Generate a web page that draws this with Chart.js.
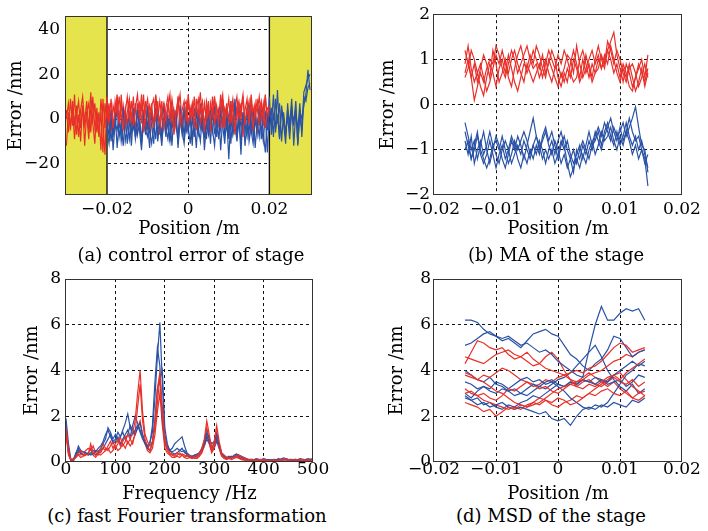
<!DOCTYPE html>
<html><head><meta charset="utf-8">
<script src="https://cdn.jsdelivr.net/npm/chart.js@4.4.1/dist/chart.umd.min.js"></script>
<style>
html,body{margin:0;padding:0;background:#fff;}
#wrap{position:relative;width:708px;height:531px;overflow:hidden;background:#fff;}
canvas{position:absolute;}
.cap{position:absolute;width:340px;text-align:center;font-family:"DejaVu Serif",serif;font-size:18px;line-height:20px;color:#000;white-space:nowrap;}
</style></head><body>
<div id="wrap">
<canvas id="ca" width="354" height="240" style="left:0;top:0"></canvas>
<canvas id="cb" width="354" height="240" style="left:354px;top:0"></canvas>
<canvas id="cc" width="354" height="243" style="left:0;top:262px"></canvas>
<canvas id="cd" width="354" height="243" style="left:354px;top:262px"></canvas>
<div class="cap" style="left:21px;top:245px">(a) control error of stage</div>
<div class="cap" style="left:386px;top:245px">(b) MA of the stage</div>
<div class="cap" style="left:17px;top:506px">(c) fast Fourier transformation</div>
<div class="cap" style="left:381px;top:506px">(d) MSD of the stage</div>
</div>
<script>
// ---------- tick labels ----------
const xTicksA = [-0.02, 0, 0.02];
const xLabelsA = ["\u22120.02", "0", "0.02"];
const yTicksA = [-20, 0, 20, 40];
const yLabelsA = ["\u221220", "0", "20", "40"];
const xTicksBD = [-0.02, -0.01, 0, 0.01, 0.02];
const xLabelsBD = ["\u22120.02", "\u22120.01", "0", "0.01", "0.02"];
const yTicksB = [-2, -1, 0, 1, 2];
const yLabelsB = ["\u22122", "\u22121", "0", "1", "2"];
const xTicksC = [0, 100, 200, 300, 400, 500];
const xLabelsC = ["0", "100", "200", "300", "400", "500"];
const yTicksCD = [0, 2, 4, 6, 8];
const yLabelsCD = ["0", "2", "4", "6", "8"];
const shadeRangesA = [[-0.0301, -0.02], [0.02, 0.0305]];
const boundaryA = [-0.02, 0.02];

// ---------- panel (a) ----------
const posA = [
-0.0300,-0.0295,-0.0290,-0.0285,-0.0280,-0.0275,-0.0270,-0.0265,-0.0260,-0.0255,
-0.0250,-0.0245,-0.0240,-0.0235,-0.0230,-0.0225,-0.0220,-0.0215,-0.0210,-0.0205,
-0.0200,-0.0195,-0.0190,-0.0185,-0.0180,-0.0175,-0.0170,-0.0165,-0.0160,-0.0155,
-0.0150,-0.0145,-0.0140,-0.0135,-0.0130,-0.0125,-0.0120,-0.0115,-0.0110,-0.0105,
-0.0100,-0.0095,-0.0090,-0.0085,-0.0080,-0.0075,-0.0070,-0.0065,-0.0060,-0.0055,
-0.0050,-0.0045,-0.0040,-0.0035,-0.0030,-0.0025,-0.0020,-0.0015,-0.0010,-0.0005,
0,0.0005,0.0010,0.0015,0.0020,0.0025,0.0030,0.0035,0.0040,0.0045,
0.0050,0.0055,0.0060,0.0065,0.0070,0.0075,0.0080,0.0085,0.0090,0.0095,
0.0100,0.0105,0.0110,0.0115,0.0120,0.0125,0.0130,0.0135,0.0140,0.0145,
0.0150,0.0155,0.0160,0.0165,0.0170,0.0175,0.0180,0.0185,0.0190,0.0195,
0.0200,0.0205,0.0210,0.0215,0.0220,0.0225,0.0230,0.0235,0.0240,0.0245,
0.0250,0.0255,0.0260,0.0265,0.0270,0.0275,0.0280,0.0285,0.0290,0.0295,
0.0300];
const redA1 = [-12,3,-5,8,-2,6,-8,4,10,-3, 2,-9,5,-1,7,-6,3,-14,9,-4, 8,-1,9,-4,4,11,-2,7,-5,3, 10,0,8,-3,5,11,1,6,-6,4, 9,-1,7,-4,11,2,-2,8,-5,5, 10,0,6,-7,3,9,-3,4,8,-1, 11,1,7,-4,5,9,-2,4,-6,8, 3,-1,10,-3,6,0,11,-4,5,2, 9,-2,7,-7,4,8,1,10,-3,5, -1,9,-5,6,3,10,0,7,-4,5, 4];
const redA2 = [4,-6,9,-3,11,-7,2,-10,6,-1, 8,-5,12,-2,-11,5,-7,3,-15,7, 0,7,-6,6,1,9,-4,11,-1,5, -3,8,0,10,-5,3,7,-2,11,-4, 4,-6,6,9,-1,8,-7,3,7,0, 5,11,-4,4,-2,10,1,-5,6,8, -3,5,0,10,-5,3,12,-2,7,-1, 8,-6,4,9,1,-3,6,11,-4,3, -1,8,-5,5,10,0,7,-8,4,9, -2,11,1,7,-6,4,8,-3,10,0, 6];
const redA3 = [0,7,-3,5,-9,2,8,-4,6,-12, 3,7,-6,10,-4,1,-8,9,-2,-16, 10,-3,4,-7,8,2,10,-1,6,-4, 3,9,-2,5,-8,7,0,11,1,8, -5,6,2,-3,10,-1,8,1,6,-6, 7,-1,9,2,-4,5,11,-2,3,-5, 8,0,6,-7,9,-1,4,8,-3,5, -5,7,1,10,-2,4,-4,9,0,7, -7,3,9,-1,6,-4,5,11,-2,3, 8,-6,5,0,9,-3,6,2,11,-2, 3];
const blueA1 = [-5,-11,0,-8,3,-13,-1,-6,5,-10, -4,2,-12,1,-8,4,-5,-14,0,-7, 6,-6,-11,-1,-9,3,-4,-12,1,-8, 2,-10,-2,-5,4,-13,0,-7,5,-6, -3,-11,1,-8,3,-4,-10,2,-14,-2, -7,4,-5,-12,0,-9,3,-3,-11,1, -18,0,-6,9,-8,-1,-11,2,-5,5, -10,-4,3,-13,-1,-8,4,-6,-15,1, -4,5,-8,9,-2,7,-10,3,-6,1, -9,6,-3,8,-11,2,-5,12,15,18, 20];
const blueA2 = [0,-8,4,-14,-2,-5,2,-10,-3,3, -11,-1,-6,5,-9,-3,3,-11,1,-6, -2,-13,3,-5,5,-10,-1,-7,7,-4, -9,1,-12,3,-3,-8,6,-5,-11,0, -6,4,-9,-1,-13,2,-4,4,-8,-2, 1,-11,5,-6,-3,3,-14,0,-5,4, -9,8,-7,-2,-10,1,-16,3,-4,-8, 6,-5,-11,0,-7,5,-3,-10,2,-15, 5,-3,11,-6,2,-9,6,-1,-7,4, -2,9,-12,3,-5,7,-8,10,8,14, 16];
const blueA3 = [-7,1,-10,-1,-4,5,-8,-2,-12,2, -1,-9,1,-4,7,-7,-2,-10,4,-5, -8,2,-3,-11,4,-6,0,-9,-2,3, -4,-10,4,-3,1,-11,-1,2,-8,6, -5,0,-12,5,-3,-7,7,-5,-1,-9, 4,-2,-6,6,-8,0,-5,8,-7,-4, 2,-11,1,-3,-8,6,-4,3,-12,-1, -6,5,-8,1,-4,6,-9,0,3,-5, 10,-7,2,-4,13,-8,4,-2,-11,7, -6,3,-1,5,-12,4,0,6,11,22, 13];

// ---------- panel (b) ----------
const posB = [
-0.0150,-0.0145,-0.0140,-0.0135,-0.0130,-0.0125,-0.0120,-0.0115,-0.0110,-0.0105,
-0.0100,-0.0095,-0.0090,-0.0085,-0.0080,-0.0075,-0.0070,-0.0065,-0.0060,-0.0055,
-0.0050,-0.0045,-0.0040,-0.0035,-0.0030,-0.0025,-0.0020,-0.0015,-0.0010,-0.0005,
0,0.0005,0.0010,0.0015,0.0020,0.0025,0.0030,0.0035,0.0040,0.0045,
0.0050,0.0055,0.0060,0.0065,0.0070,0.0075,0.0080,0.0085,0.0090,0.0095,
0.0100,0.0105,0.0110,0.0115,0.0120,0.0125,0.0130,0.0135,0.0140,0.0145];
const redB1 = [1.2,0.9,0.6,0.1,0.4,0.7,0.5,0.8,1.0,0.9, 1.3,1.1,0.8,0.6,0.9,1.2,1.0,0.7,0.9,1.1, 1.3,1.0,0.8,0.9,0.6,0.8,1.0,0.7,0.5,0.8, 0.9,0.6,0.8,1.1,1.0,0.7,1.3,0.9,0.6,0.8, 1.0,1.2,0.9,1.1,0.8,1.0,1.2,1.4,1.6,1.1, 0.8,0.5,0.9,0.7,0.4,0.6,0.9,0.7,0.5,0.8];
const redB2 = [0.7,1.0,0.6,0.9,0.5,0.8,1.1,0.9,0.6,1.2, 0.9,0.5,0.7,1.0,0.6,0.4,0.8,1.1,1.3,1.0, 0.7,0.9,1.2,1.0,0.8,1.1,0.7,0.9,1.2,1.0, 0.6,0.4,0.7,0.5,0.9,1.2,0.9,0.6,1.0,0.7, 0.9,0.6,1.0,1.3,1.0,0.8,1.2,1.0,0.7,0.9, 0.6,0.9,0.7,0.4,0.3,0.6,0.8,1.0,0.6,1.1];
const redB3 = [0.9,1.3,0.8,0.5,0.7,0.4,0.2,0.6,0.9,0.7, 0.4,0.8,1.0,0.7,1.1,0.8,0.5,0.3,0.6,0.9, 0.8,1.1,0.9,1.3,1.1,0.8,0.6,1.0,0.8,0.6, 0.4,0.7,0.5,0.8,0.6,1.0,0.8,0.5,0.7,1.1, 0.8,0.5,0.7,1.0,0.8,1.1,0.9,1.3,1.0,0.7, 0.5,0.8,0.6,0.9,0.6,0.3,0.5,0.8,0.4,0.7];
const redB4 = [0.6,0.8,1.2,1.0,0.7,0.9,0.6,0.3,0.5,0.8, 1.1,0.9,1.2,0.9,0.7,1.0,1.2,0.9,0.7,0.5, 0.9,0.7,0.5,0.7,0.9,0.6,0.9,1.2,1.0,0.8, 1.1,0.9,1.2,1.0,0.7,0.5,0.6,1.0,1.2,0.9, 0.6,0.9,0.7,0.8,1.1,0.9,1.4,1.2,0.9,1.2, 1.0,0.7,0.5,0.8,0.9,0.7,0.4,0.6,0.9,0.6];
const blueB1 = [-0.4,-0.7,-1.0,-0.8,-1.2,-0.9,-0.6,-1.0,-1.3,-1.0, -0.7,-0.9,-1.2,-1.4,-1.1,-0.8,-1.0,-0.7,-0.9,-1.2, -0.9,-0.6,-0.3,-0.7,-1.0,-0.8,-0.6,-0.9,-1.1,-0.8, -1.0,-1.3,-1.1,-1.4,-1.2,-1.5,-1.0,-1.2,-0.9,-1.1, -0.8,-1.0,-0.7,-0.5,-0.7,-0.4,-0.6,-0.8,-0.5,-0.7, -0.6,-0.4,-0.7,-0.5,-0.3,-0.05,-0.5,-0.9,-1.0,-1.5];
const blueB2 = [-1.0,-0.8,-1.2,-0.9,-0.6,-1.1,-1.3,-1.1,-0.8,-1.1, -1.4,-1.1,-0.9,-1.2,-1.0,-1.3,-1.1,-0.9,-1.1,-0.8, -1.0,-1.2,-0.9,-1.1,-0.8,-1.0,-1.3,-1.0,-0.8,-1.1, -0.8,-0.6,-0.9,-1.3,-1.6,-1.4,-1.2,-1.4,-1.1,-1.3, -1.0,-0.8,-1.1,-0.9,-0.6,-0.8,-0.7,-0.5,-0.8,-1.0, -0.7,-0.9,-0.6,-0.8,-1.1,-0.9,-1.2,-1.0,-1.3,-1.1];
const blueB3 = [-0.8,-1.1,-0.7,-1.3,-1.0,-0.8,-1.1,-0.9,-0.6,-0.9, -1.1,-1.3,-1.0,-0.8,-1.0,-0.7,-0.9,-1.2,-1.4,-1.1, -1.3,-1.0,-1.2,-0.9,-1.1,-0.7,-0.5,-0.8,-0.6,-0.9, -1.2,-0.9,-0.7,-1.0,-1.2,-1.0,-1.3,-1.0,-0.8,-1.0, -1.2,-0.9,-0.6,-0.8,-1.0,-0.7,-0.5,-0.3,-0.6,-0.8, -0.5,-0.8,-0.6,-0.3,-0.6,-0.8,-0.7,-1.0,-1.2,-1.8];
const blueB4 = [-0.6,-0.9,-1.2,-1.0,-0.7,-1.0,-1.2,-1.4,-1.2,-0.9, -0.8,-1.0,-0.7,-1.0,-1.3,-1.1,-0.8,-1.0,-0.8,-0.6, -0.8,-1.1,-0.9,-0.7,-0.9,-1.2,-1.0,-1.2,-1.0,-1.3, -1.1,-0.8,-1.0,-0.8,-1.1,-1.3,-1.1,-0.9,-1.2,-0.9, -0.6,-0.9,-0.8,-0.6,-0.9,-0.6,-0.4,-0.7,-0.9,-0.6, -0.9,-0.7,-0.4,-0.7,-0.9,-0.7,-1.0,-0.8,-1.1,-1.4];

// ---------- panel (c) ----------
const freqC = [0,5,10,15,20,25,30,35,40,45, 50,55,60,65,70,75,80,85,90,95, 100,105,110,115,120,125,130,135,140,145, 150,155,160,165,170,175,180,185,190,195, 200,205,210,215,220,225,230,235,240,245, 250,255,260,265,270,275,280,285,290,295, 300,305,310,315,320,325,330,335,340,345, 350,355,360,365,370,375,380,385,390,395, 400,405,410,415,420,425,430,435,440,445, 450,455,460,465,470,475,480,485,490,495, 500];
const redC1 = [1.5,0.6,0.05,0.1,0.2,0.4,0.5,0.3,0.35,0.3, 0.8,0.4,0.3,0.5,0.4,0.6,0.5,0.7,0.9,0.6, 0.8,1.0,0.7,0.9,1.1,0.8,1.0,1.3,1.8,3.0, 4.0,2.2,1.2,0.9,0.7,0.9,1.5,2.6,3.7,2.4, 1.0,0.6,0.4,0.35,0.3,0.4,0.3,0.35,0.3,0.25, 0.3,0.2,0.25,0.3,0.4,0.6,1.0,1.8,1.2,0.6, 0.9,1.6,0.9,0.4,0.3,0.2,0.15,0.2,0.2,0.25, 0.3,0.25,0.2,0.15,0.1,0.12,0.1,0.08,0.1,0.12, 0.1,0.08,0.06,0.08,0.1,0.07,0.08,0.1,0.12,0.15, 0.1,0.08,0.1,0.12,0.08,0.1,0.12,0.08,0.1,0.07, 0.1];
const redC2 = [1.3,0.4,0.1,0.15,0.3,0.35,0.3,0.4,0.5,0.6, 0.5,0.7,0.4,0.3,0.5,0.8,0.6,0.5,0.7,0.9, 0.6,0.8,1.1,0.7,0.9,1.2,1.0,0.8,1.3,2.4, 3.4,1.8,1.0,0.7,0.5,0.8,1.8,3.2,3.9,2.0, 0.8,0.5,0.35,0.3,0.25,0.3,0.4,0.3,0.2,0.3, 0.2,0.25,0.15,0.2,0.3,0.5,0.9,1.5,1.0,0.5, 0.7,1.3,0.7,0.3,0.2,0.15,0.2,0.15,0.2,0.3, 0.2,0.15,0.1,0.12,0.08,0.1,0.07,0.1,0.08,0.06, 0.08,0.1,0.07,0.05,0.08,0.1,0.06,0.08,0.1,0.12, 0.08,0.1,0.06,0.08,0.1,0.12,0.08,0.06,0.08,0.1, 0.08];
const redC3 = [1.2,0.3,0.05,0.1,0.2,0.3,0.2,0.25,0.3,0.4, 0.6,0.3,0.2,0.35,0.3,0.4,0.5,0.6,0.4,0.5, 0.7,0.5,0.6,0.8,0.6,0.9,0.7,0.9,1.2,1.5, 1.8,1.2,0.8,0.5,0.4,0.6,1.2,2.2,3.0,1.6, 0.6,0.4,0.3,0.2,0.2,0.25,0.2,0.3,0.2,0.15, 0.2,0.15,0.2,0.15,0.25,0.4,0.7,1.2,0.8,0.4, 0.6,1.1,0.6,0.25,0.15,0.1,0.15,0.1,0.15,0.2, 0.15,0.1,0.08,0.06,0.08,0.05,0.07,0.05,0.06,0.08, 0.05,0.06,0.04,0.06,0.05,0.07,0.05,0.06,0.08,0.1, 0.06,0.05,0.07,0.06,0.08,0.06,0.05,0.07,0.05,0.06, 0.05];
const blueC1 = [1.9,0.8,0.1,0.05,0.3,0.7,0.5,0.45,0.4,0.35, 0.4,0.5,0.45,0.6,0.7,0.9,1.2,1.4,1.1,0.9, 1.0,1.3,1.1,1.4,1.7,2.1,1.5,1.2,1.4,1.6, 1.3,1.0,0.8,0.7,0.9,1.3,2.8,4.6,6.1,3.5, 1.2,0.7,0.5,0.6,0.8,0.9,1.0,1.1,0.7,0.4, 0.3,0.25,0.3,0.35,0.4,0.6,0.9,1.3,1.0,0.8, 0.9,1.2,0.8,0.4,0.3,0.2,0.25,0.2,0.3,0.35, 0.3,0.25,0.2,0.15,0.1,0.12,0.1,0.15,0.12,0.1, 0.15,0.12,0.1,0.08,0.12,0.1,0.15,0.12,0.18,0.15, 0.12,0.1,0.08,0.1,0.12,0.15,0.1,0.12,0.15,0.12, 0.15];
const blueC2 = [1.6,0.5,0.05,0.1,0.4,0.6,0.4,0.3,0.35,0.4, 0.3,0.35,0.5,0.45,0.6,0.8,1.0,1.5,1.3,1.0, 1.2,0.9,1.1,1.3,1.0,1.2,1.6,1.4,1.2,1.5, 1.7,1.2,0.9,0.6,0.8,1.6,3.5,5.0,4.2,1.8, 0.9,0.6,0.5,0.45,0.5,0.6,0.5,0.6,0.4,0.35, 0.25,0.2,0.3,0.25,0.35,0.5,0.8,1.1,0.9,0.6, 0.8,1.0,0.7,0.35,0.25,0.2,0.15,0.2,0.25,0.3, 0.25,0.2,0.15,0.1,0.12,0.08,0.1,0.12,0.08,0.1, 0.12,0.1,0.08,0.1,0.07,0.1,0.08,0.12,0.1,0.14, 0.1,0.08,0.1,0.12,0.08,0.1,0.12,0.08,0.1,0.12, 0.1];
const blueC3 = [1.4,0.4,0.1,0.1,0.25,0.5,0.35,0.3,0.4,0.3, 0.35,0.4,0.3,0.4,0.5,0.6,0.8,1.0,1.2,0.8, 0.9,1.1,0.8,1.0,1.2,1.4,1.1,1.6,2.0,1.7, 1.4,1.1,0.8,0.6,0.5,0.9,1.8,3.2,3.6,4.0, 1.5,0.8,0.5,0.4,0.35,0.4,0.5,0.45,0.5,0.3, 0.2,0.25,0.2,0.3,0.4,0.5,0.7,1.0,0.8,0.5, 0.6,0.9,0.6,0.3,0.2,0.15,0.2,0.25,0.2,0.25, 0.2,0.15,0.12,0.1,0.08,0.1,0.08,0.1,0.12,0.08, 0.1,0.08,0.06,0.08,0.1,0.08,0.1,0.12,0.1,0.08, 0.1,0.12,0.1,0.08,0.06,0.08,0.1,0.08,0.1,0.08, 0.12];

// ---------- panel (d) ----------
const posD = [-0.015,-0.014,-0.013,-0.012,-0.011,-0.010,-0.009,-0.008,-0.007,-0.006, -0.005,-0.004,-0.003,-0.002,-0.001,0,0.001,0.002,0.003,0.004, 0.005,0.006,0.007,0.008,0.009,0.010,0.011,0.012,0.013,0.014];
const blueD1 = [6.2,6.2,6.1,5.8,5.6,5.5,5.4,5.5,5.3,5.1, 5.2,5.0,4.8,4.9,4.7,4.4,4.2,4.0,3.8,3.7, 4.9,6.0,6.8,6.2,6.2,6.5,6.7,6.6,6.7,6.2];
const blueD2 = [5.1,5.2,5.4,5.6,5.7,5.5,5.3,5.4,5.2,5.0, 5.3,5.6,5.7,5.8,5.6,5.5,5.1,4.7,4.5,4.2, 4.0,4.3,4.5,4.9,5.5,5.4,5.0,4.6,4.8,4.9];
const blueD3 = [3.5,3.4,3.2,3.3,3.1,3.0,3.2,3.1,2.9,3.0, 3.2,3.4,3.3,3.5,3.6,3.4,3.3,3.5,3.4,3.6, 3.5,3.4,3.6,3.5,3.8,4.0,4.2,4.4,4.2,4.4];
const blueD4 = [2.8,2.7,2.5,2.6,2.4,2.5,2.6,2.4,2.3,2.4, 2.3,2.2,2.1,2.2,1.9,1.8,1.9,1.6,2.0,2.3, 2.4,2.3,2.5,2.4,2.6,2.5,2.4,2.7,2.6,2.8];
const blueD5 = [3.0,2.8,3.1,3.3,3.2,3.5,3.4,3.2,3.4,3.6, 3.7,3.5,3.6,3.4,3.5,3.3,3.1,2.8,2.6,2.4, 2.3,2.5,2.4,2.6,3.0,3.4,3.8,4.0,4.3,4.2];
const blueD6 = [2.9,2.7,2.8,2.5,2.6,2.4,2.3,2.5,2.4,2.6, 2.7,2.9,2.8,3.0,3.2,3.4,3.3,3.5,3.4,3.6, 3.5,3.7,3.6,3.4,3.5,3.6,3.3,3.5,3.8,3.7];
const blueD7 = [4.0,3.8,3.6,3.5,3.7,3.4,3.3,3.1,3.2,3.0, 2.9,3.1,3.3,3.2,3.4,3.6,3.7,3.9,4.2,4.5, 4.8,5.1,4.6,4.0,3.6,3.3,3.1,3.4,3.0,3.2];
const redD1 = [4.3,4.8,5.3,5.2,5.0,4.9,5.0,4.7,4.5,4.6, 4.8,4.5,4.3,4.1,4.0,3.9,3.8,3.9,4.0,3.9, 4.1,4.2,4.4,4.7,5.0,5.2,5.1,4.8,4.9,5.0];
const redD2 = [4.6,4.5,4.4,4.3,4.5,4.7,4.8,4.9,4.7,4.6, 4.4,4.2,4.3,4.6,4.8,4.5,4.0,3.6,3.3,3.2, 3.4,3.3,3.5,3.7,3.8,3.6,3.9,4.1,4.3,4.5];
const redD3 = [3.9,3.8,3.6,3.5,3.3,3.1,3.0,2.8,2.6,2.5, 2.4,2.5,2.6,2.8,3.0,3.2,3.3,3.4,3.5,3.6, 3.8,3.9,4.0,4.2,4.4,4.5,4.7,4.6,4.8,4.9];
const redD4 = [2.6,2.5,2.4,2.2,2.3,2.0,2.2,2.4,2.3,2.5, 2.4,2.6,2.5,2.7,2.6,2.8,2.7,2.5,2.6,2.8, 3.0,2.9,3.1,3.2,3.0,2.9,3.1,2.8,3.0,3.1];
const redD5 = [3.0,3.1,2.9,3.0,2.8,2.7,2.9,3.2,3.1,3.3, 3.5,3.4,3.2,3.3,3.1,3.0,3.2,3.4,3.3,3.5, 3.6,3.4,3.3,3.5,3.7,3.5,3.4,3.6,3.3,3.5];
const redD6 = [3.2,3.0,2.9,2.7,2.6,2.5,2.4,2.3,2.4,2.3, 2.5,2.6,2.8,2.7,2.5,2.4,2.6,2.7,2.9,2.8, 3.0,3.2,3.4,3.6,3.8,3.9,3.6,3.3,3.1,2.9];
const redD7 = [3.8,3.7,3.6,3.8,3.7,3.9,4.1,4.0,3.8,3.6, 3.5,3.3,3.4,3.6,3.5,3.7,3.8,3.6,3.5,3.7, 3.9,3.7,3.5,3.3,3.5,3.2,3.0,2.8,2.7,2.9];

// ---------- styling ----------
const RED = '#e8302a';
const BLUE = '#2a52a6';
const YELLOW = '#e6e44c';
const GRID = '#111';
const FRAME = '#333';
const TEXT = '#000';
const TICK_FONT = {family: '"DejaVu Serif", serif', size: 17, lineHeight: 1.2};
const TITLE_FONT = {family: '"DejaVu Serif", serif', size: 18, lineHeight: 1.2};

function series(xs, ys, color, offset) {
  return {
    data: ys.map((y, i) => ({x: xs[i + offset], y: y})),
    borderColor: color, borderWidth: 1.2, pointRadius: 0, fill: false, tension: 0
  };
}
function interleave(xs, reds, blues, redOff, blueOff) {
  const out = [];
  const n = Math.max(reds.length, blues.length);
  for (let i = 0; i < n; i++) {
    if (i < reds.length) out.push(series(xs, reds[i], RED, redOff));
    if (i < blues.length) out.push(series(xs, blues[i], BLUE, blueOff));
  }
  return out;
}
function gridColor(hidden) {
  return c => {
    if (!c.tick) return GRID;
    const v = c.tick.value, s = c.scale;
    if (Math.abs(v - s.min) < 1e-9 || Math.abs(v - s.max) < 1e-9) return 'rgba(0,0,0,0)';
    if (hidden.some(h => Math.abs(h - v) < 1e-9)) return 'rgba(0,0,0,0)';
    return GRID;
  };
}
const framePlugin = {
  id: 'frame',
  afterDatasetsDraw(chart) {
    const {ctx, chartArea: a} = chart;
    ctx.save();
    ctx.strokeStyle = FRAME; ctx.lineWidth = 1; ctx.setLineDash([]);
    const l = Math.round(a.left), t = Math.round(a.top), r = Math.round(a.right), b = Math.round(a.bottom);
    ctx.strokeRect(l - 0.5, t + 0.5, r - l, b - t - 1);
    ctx.restore();
  }
};
function shadePlugin(ranges, lines) {
  return {
    id: 'shade',
    beforeDatasetsDraw(chart) {
      const {ctx, chartArea: a, scales: {x}} = chart;
      ctx.save();
      ctx.fillStyle = YELLOW;
      ranges.forEach(([lo, hi]) => {
        const p0 = x.getPixelForValue(Math.max(lo, x.min));
        const p1 = x.getPixelForValue(Math.min(hi, x.max));
        ctx.fillRect(p0, a.top, p1 - p0, a.bottom - a.top);
      });
      ctx.strokeStyle = '#111'; ctx.lineWidth = 1.4;
      lines.forEach(v => {
        const p = x.getPixelForValue(v);
        ctx.beginPath(); ctx.moveTo(p, a.top); ctx.lineTo(p, a.bottom); ctx.stroke();
      });
      ctx.restore();
    }
  };
}

function makeChart(id, o) {
  return new Chart(document.getElementById(id), {
    type: 'line',
    data: {datasets: o.datasets},
    options: {
      responsive: false, animation: false, devicePixelRatio: 1,
      layout: {padding: o.pad},
      plugins: {legend: {display: false}, tooltip: {enabled: false}},
      elements: {point: {radius: 0}},
      scales: {
        x: {
          type: 'linear', min: o.xMin, max: o.xMax,
          afterBuildTicks: s => { s.ticks = o.xTicks.map(v => ({value: v})); },
          afterFit: s => { s.height = o.xHeight; },
          ticks: {autoSkip: false, maxRotation: 0, minRotation: 0, padding: o.xTickPad,
                  callback: (v, i) => o.xLabels[i], color: TEXT, font: TICK_FONT},
          grid: {drawTicks: false, lineWidth: 1, color: gridColor(o.xHidden || [])},
          border: {display: false, dash: [3, 3]},
          title: {display: true, text: o.xTitle, color: TEXT, font: TITLE_FONT, padding: {top: 0, bottom: 0}}
        },
        y: {
          type: 'linear', min: o.yMin, max: o.yMax,
          afterBuildTicks: s => { s.ticks = o.yTicks.map(v => ({value: v})); },
          afterFit: s => { s.width = o.yWidth; },
          ticks: {autoSkip: false, padding: o.yTickPad,
                  callback: (v, i) => o.yLabels[i], color: TEXT, font: TICK_FONT},
          grid: {drawTicks: false, lineWidth: 1, color: gridColor([])},
          border: {display: false, dash: [3, 3]},
          title: {display: true, text: 'Error /nm', color: TEXT, font: TITLE_FONT, padding: {top: o.yTitlePad, bottom: 0}}
        }
      }
    },
    plugins: o.extraPlugins ? o.extraPlugins.concat([framePlugin]) : [framePlugin]
  });
}

makeChart('ca', {
  datasets: interleave(posA, [redA1, redA2, redA3], [blueA1, blueA2, blueA3], 0, 20),
  pad: {top: 12, right: 42, bottom: 0, left: 0},
  xMin: -0.0301, xMax: 0.0305, yMin: -34, yMax: 46,
  xTicks: xTicksA, xLabels: xLabelsA, yTicks: yTicksA, yLabels: yLabelsA,
  xHidden: boundaryA,
  xHeight: 45, yWidth: 66, xTickPad: 4, yTickPad: 6, yTitlePad: 6,
  xTitle: 'Position /m',
  extraPlugins: [shadePlugin(shadeRangesA, boundaryA)]
});
makeChart('cb', {
  datasets: interleave(posB, [redB1, redB2, redB3, redB4], [blueB1, blueB2, blueB3, blueB4], 0, 0),
  pad: {top: 12, right: 26, bottom: 0, left: 0},
  xMin: -0.02, xMax: 0.02, yMin: -2, yMax: 2,
  xTicks: xTicksBD, xLabels: xLabelsBD, yTicks: yTicksB, yLabels: yLabelsB,
  xHeight: 45, yWidth: 80, xTickPad: 4, yTickPad: 4, yTitlePad: 24,
  xTitle: 'Position /m'
});
makeChart('cc', {
  datasets: interleave(freqC, [redC1, redC2, redC3], [blueC1, blueC2, blueC3], 0, 0),
  pad: {top: 17, right: 41, bottom: 0, left: 0},
  xMin: 0, xMax: 500, yMin: 0, yMax: 8,
  xTicks: xTicksC, xLabels: xLabelsC, yTicks: yTicksCD, yLabels: yLabelsCD,
  xHeight: 43, yWidth: 66, xTickPad: -3, yTickPad: 5, yTitlePad: 22,
  xTitle: 'Frequency /Hz'
});
makeChart('cd', {
  datasets: interleave(posD, [redD1, redD2, redD3, redD4, redD5, redD6, redD7], [blueD1, blueD2, blueD3, blueD4, blueD5, blueD6, blueD7], 0, 0),
  pad: {top: 17, right: 26, bottom: 0, left: 0},
  xMin: -0.02, xMax: 0.02, yMin: 0, yMax: 8,
  xTicks: xTicksBD, xLabels: xLabelsBD, yTicks: yTicksCD, yLabels: yLabelsCD,
  xHeight: 43, yWidth: 80, xTickPad: -3, yTickPad: 3, yTitlePad: 33,
  xTitle: 'Position /m'
});
</script>
</body></html>
